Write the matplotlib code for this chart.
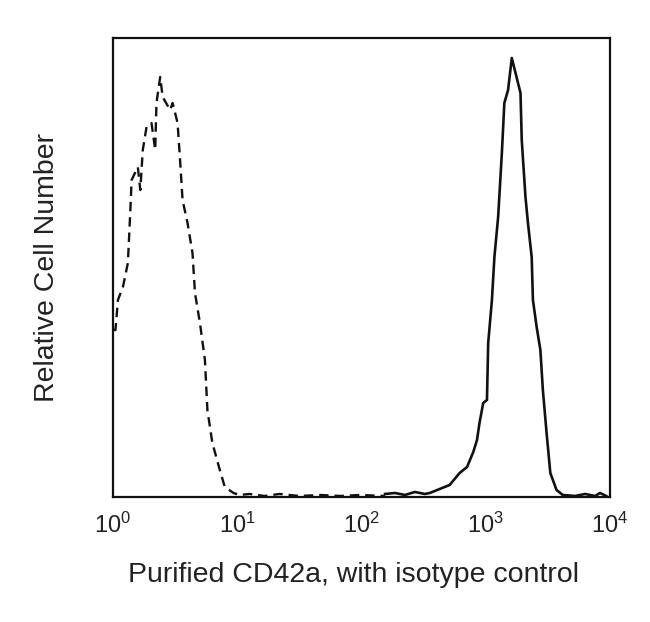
import numpy as np
import matplotlib
matplotlib.use('Agg')
import matplotlib.pyplot as plt

''' histogram data read off the picture (x as log10 of intensity, y as counts) '''
stained_log = [2.19, 2.27, 2.35, 2.43, 2.51, 2.55, 2.63, 2.71, 2.79, 2.85, 2.90, 2.93,
               2.95, 2.98, 3.01, 3.02, 3.05, 3.07, 3.10, 3.13, 3.15, 3.18, 3.21, 3.24,
               3.28, 3.29, 3.32, 3.34, 3.37, 3.38, 3.41, 3.44, 3.46, 3.49, 3.52, 3.57,
               3.62, 3.72, 3.80, 3.88, 3.92, 3.97]
stained_counts = [3, 4, 2, 5, 3, 4, 8, 12, 24, 30, 45, 57,
                  74, 94, 97, 154, 197, 240, 280, 344, 394, 407, 439, 424,
                  404, 357, 300, 274, 240, 197, 170, 147, 107, 64, 24, 7,
                  2, 1, 3, 1, 4, 1]

isotype_log = [0.00, 0.02, 0.04, 0.08, 0.12, 0.14, 0.15, 0.20, 0.22, 0.24, 0.27, 0.31,
               0.34, 0.35, 0.38, 0.40, 0.46, 0.48, 0.52, 0.54, 0.56, 0.60, 0.64, 0.66,
               0.70, 0.74, 0.76, 0.80, 0.86, 0.90, 0.97, 1.02, 1.10, 1.22, 1.34, 1.50,
               1.67, 1.83, 1.99, 2.19]
isotype_counts = [167, 167, 197, 210, 234, 287, 317, 330, 307, 347, 370, 374,
                  347, 394, 420, 400, 387, 394, 374, 337, 297, 274, 244, 204,
                  174, 137, 87, 54, 27, 10, 4, 2, 3, 1, 3, 1,
                  2, 1, 2, 1]

xtick_exps = [0, 1, 2, 3, 4]

plt.rcParams['font.family'] = ['Liberation Sans', 'DejaVu Sans']
plt.rcParams['mathtext.fontset'] = 'custom'
plt.rcParams['mathtext.rm'] = 'Liberation Sans'
plt.rcParams['mathtext.it'] = 'Liberation Sans'

fig = plt.figure(figsize=(6.5, 6.22), dpi=100)
ax = fig.add_axes([0.1738, 0.2010, 0.7646, 0.7379])

ax.plot(10 ** np.array(isotype_log), isotype_counts, color='#111111', lw=1.7,
        dashes=(4, 2.5))
ax.plot(10 ** np.array(stained_log), stained_counts, color='#111111', lw=1.9)

ax.set_xscale('log')
ax.set_xlim(1, 1e4)
ax.set_ylim(0, 459)
ax.set_xticks([10 ** e for e in xtick_exps])
ax.set_xticklabels(['$10^{%d}$' % e for e in xtick_exps])
ax.minorticks_off()
ax.set_yticks([])
ax.tick_params(axis='x', length=0, pad=11, labelsize=17, colors='#222222')
for s in ax.spines.values():
    s.set_linewidth(1.6)
    s.set_color('#111111')

ax.set_xlabel('Purified CD42a, with isotype control', fontsize=20.5, color='#222222')
ax.xaxis.set_label_coords(0.484, -0.142)
ax.set_ylabel('Relative Cell Number', fontsize=20.5, labelpad=38, color='#222222')

fig.savefig('out.png', dpi=100)
